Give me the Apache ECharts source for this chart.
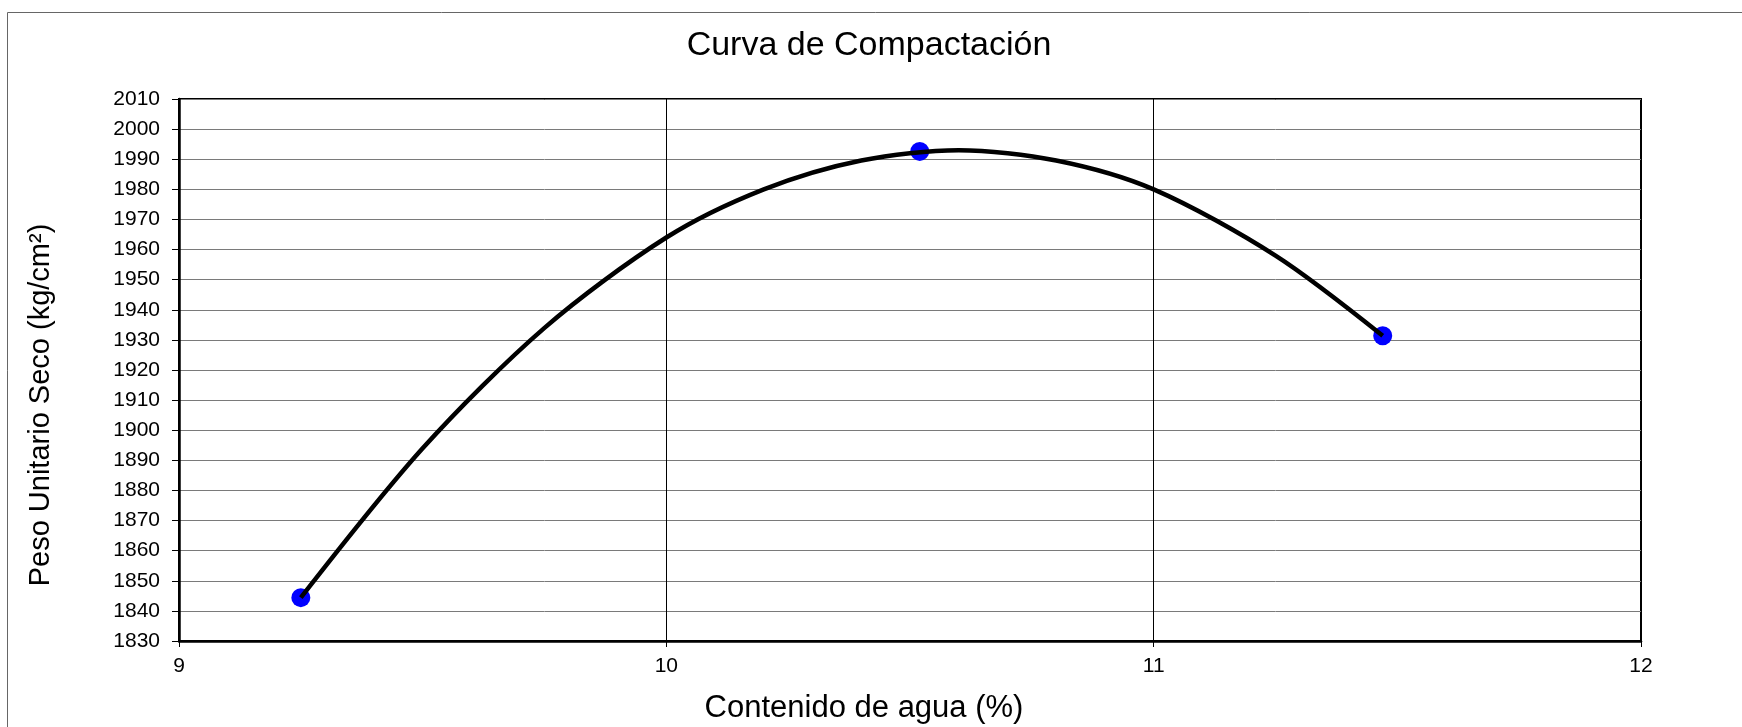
<!DOCTYPE html>
<html>
<head>
<meta charset="utf-8">
<script src="https://cdn.jsdelivr.net/npm/echarts@6/dist/echarts.min.js"></script>
<style>
  html, body { margin: 0; padding: 0; background: #fff; }
  #chart { width: 1742px; height: 727px; }
</style>
</head>
<body>
<div id="chart"></div>
<script>
// measured points (humedad %, peso unitario seco)
var humedad = [9.25, 10.52, 11.47];
var pesoSeco = [1844.4, 1992.6, 1931.4];

// trend curve
var curvaX = [9.25, 9.5, 9.75, 10, 10.2, 10.4, 10.6, 10.8, 11, 11.25, 11.47];
var curvaY = [1844.4, 1894, 1934, 1964, 1980, 1989.6, 1993, 1989.6, 1980, 1958, 1931.4];

var FONT = '"Liberation Sans", Arial, sans-serif';

var chart = echarts.init(document.getElementById('chart'));

chart.setOption({
    backgroundColor: '#fff',
    animation: false,
    title: {
        text: 'Curva de Compactación',
        left: 864,
        top: 24,
        textAlign: 'center',
        textStyle: {fontFamily: FONT, fontSize: 34, fontWeight: 'normal', color: '#000'}
    },
    graphic: [
        {
            type: 'rect',
            shape: {x: 7.5, y: 12.5, width: 1800, height: 800},
            style: {fill: 'none', stroke: '#666', lineWidth: 1},
            silent: true
        },
        {
            type: 'text',
            x: 41,
            y: 405,
            rotation: Math.PI / 2,
            style: {
                text: 'Peso Unitario Seco (kg/cm²)',
                font: '29px ' + FONT,
                fill: '#000',
                textAlign: 'center',
                textVerticalAlign: 'middle'
            }
        },
        {
            type: 'text',
            x: 864,
            y: 708,
            style: {
                text: 'Contenido de agua (%)',
                font: '31px ' + FONT,
                fill: '#000',
                textAlign: 'center',
                textVerticalAlign: 'middle'
            }
        }
    ],
    grid: {
        left: 179,
        top: 99,
        right: 101,
        bottom: 86,
        show: true,
        borderColor: '#000',
        borderWidth: 2,
        backgroundColor: 'transparent'
    },
    xAxis: {
        type: 'value',
        min: 9,
        max: 12,
        interval: 1,
        axisLine: {show: true, lineStyle: {color: '#000', width: 2.5}},
        axisTick: {show: true, length: 6, lineStyle: {color: '#000'}},
        axisLabel: {fontFamily: FONT, fontSize: 21, color: '#000', margin: 15},
        splitLine: {show: true, lineStyle: {color: '#000', width: 1}}
    },
    yAxis: {
        type: 'value',
        min: 1830,
        max: 2010,
        interval: 10,
        axisLine: {show: true, lineStyle: {color: '#000', width: 2.5}},
        axisTick: {show: true, length: 7, lineStyle: {color: '#000'}},
        axisLabel: {
            fontFamily: FONT, fontSize: 21, color: '#000', margin: 19,
            formatter: function (v) { return String(v); }
        },
        splitLine: {show: true, lineStyle: {color: '#7a7a7a', width: 1}}
    },
    series: [
        {
            name: 'Ensayos',
            type: 'scatter',
            symbol: 'circle',
            symbolSize: 19,
            itemStyle: {color: '#0000ff', opacity: 1},
            data: humedad.map(function (h, i) { return [h, pesoSeco[i]]; }),
            z: 2
        },
        {
            name: 'Curva',
            type: 'line',
            smooth: 0.3,
            showSymbol: false,
            lineStyle: {color: '#000', width: 4.5},
            data: curvaX.map(function (h, i) { return [h, curvaY[i]]; }),
            z: 3
        }
    ]
});
</script>
</body>
</html>
